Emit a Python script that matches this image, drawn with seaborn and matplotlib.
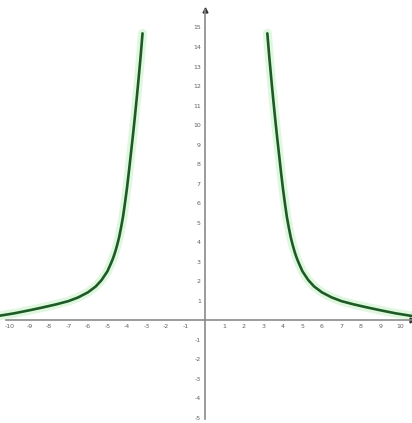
import numpy as np
import pandas as pd
import matplotlib

matplotlib.use('Agg')
import matplotlib.pyplot as plt
import seaborn as sns

# curve values (right branch, mirrored for the left one)
x_right = [3.2, 3.3, 3.4, 3.5, 3.6, 3.7, 3.8, 3.9, 4.0, 4.1, 4.2, 4.3, 4.4, 4.5, 4.6, 4.7,
           4.8, 5.0, 5.3, 5.6, 6.0, 6.5, 7.0, 7.6, 8.3, 9.0, 9.8, 10.6]
y_right = [14.7, 13.5, 12.4, 11.35, 10.35, 9.4, 8.5, 7.6, 6.75, 6.0, 5.3, 4.75, 4.25, 3.85,
           3.5, 3.2, 2.95, 2.5, 2.05, 1.72, 1.42, 1.16, 0.97, 0.81, 0.65, 0.5, 0.34, 0.21]

x_ticks = [-10, -9, -8, -7, -6, -5, -4, -3, -2, -1, 1, 2, 3, 4, 5, 6, 7, 8, 9, 10]
y_ticks = [-5, -4, -3, -2, -1, 1, 2, 3, 4, 5, 6, 7, 8, 9, 10, 11, 12, 13, 14, 15]

left = pd.DataFrame({'x': [-v for v in x_right], 'y': y_right, 'branch': 'left'})
right = pd.DataFrame({'x': x_right, 'y': y_right, 'branch': 'right'})

sns.set_style('white')
plt.rcParams['font.family'] = ['DejaVu Sans']

fig = plt.figure(figsize=(4.12, 4.23), dpi=100)
ax = fig.add_axes([0, 0, 1, 1])

for df in (left, right):
    # soft green halo under the curve
    sns.lineplot(data=df, x='x', y='y', ax=ax, color='#c6f2c6', linewidth=6.5,
                 alpha=0.55, sort=False, estimator=None)
    sns.lineplot(data=df, x='x', y='y', ax=ax, color='#1e5a26', linewidth=1.9,
                 sort=False, estimator=None)

ax.set_xlim(-10.51, 10.62)
ax.set_ylim(-5.28, 16.41)

# axes through the origin
for side in ('top', 'right'):
    ax.spines[side].set_visible(False)
ax.spines['left'].set_position(('data', 0))
ax.spines['bottom'].set_position(('data', 0))
ax.spines['left'].set_bounds(-5.1, 15.9)
ax.spines['bottom'].set_bounds(-10.2, 10.6)
for side in ('left', 'bottom'):
    ax.spines[side].set_color('#8a8a8a')
    ax.spines[side].set_linewidth(1.2)

ax.set_xticks(x_ticks)
ax.set_yticks(y_ticks)
ax.set_xticklabels([str(v) for v in x_ticks])
ax.set_yticklabels([str(v) for v in y_ticks])
ax.tick_params(axis='both', direction='inout', length=3, width=0.6, color='#8a8a8a',
               labelsize=4.5, labelcolor='#606060', pad=1.5)
ax.set_xlabel('')
ax.set_ylabel('')

# small arrow heads at the axis ends
ax.plot(0, 15.9, marker='^', color='#333333', markersize=3.5, clip_on=False)
ax.plot(10.6, 0, marker='>', color='#333333', markersize=3.5, clip_on=False)

fig.savefig('out.png', dpi=100)
